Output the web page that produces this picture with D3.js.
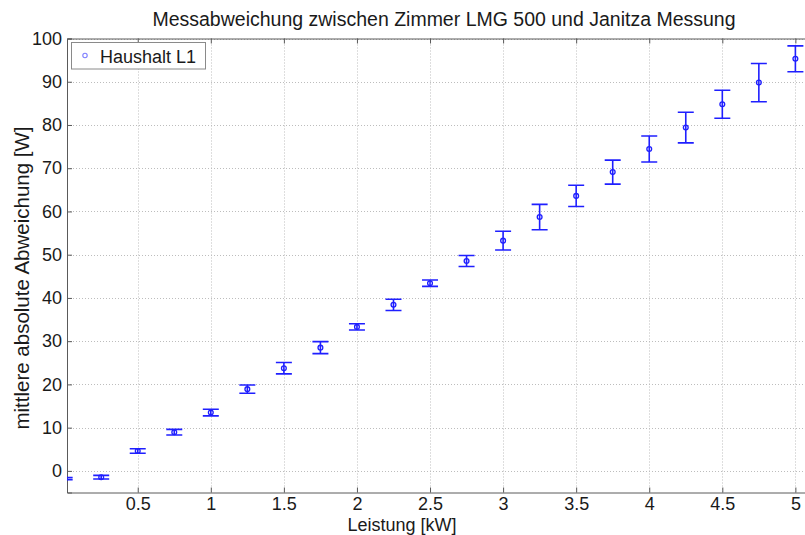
<!DOCTYPE html>
<html>
<head>
<meta charset="utf-8">
<script src="https://cdn.jsdelivr.net/npm/d3@7"></script>
<style>
  html, body { margin: 0; padding: 0; background: #fff; }
  svg { display: block; font-family: "Liberation Sans", Arial, Helvetica, sans-serif; }
</style>
</head>
<body>
<div id="chart"></div>
<script>
// Leistung [kW]
const leistung = [0, 0.25, 0.5, 0.75, 1, 1.25, 1.5, 1.75, 2, 2.25, 2.5,
  2.75, 3, 3.25, 3.5, 3.75, 4, 4.25, 4.5, 4.75, 5];
// mittlere absolute Abweichung [W]
const abweichung = [-1.8, -1.47, 4.6, 8.94, 13.5, 18.9, 23.75, 28.5, 33.3, 38.4, 43.4,
  48.55, 53.25, 58.7, 63.6, 69.1, 74.45, 79.4, 84.8, 89.8, 95.3];
// Fehlerbalken (+/-)
const fehler = [0.25, 0.42, 0.53, 0.65, 0.77, 0.95, 1.31, 1.39, 0.73, 1.3, 0.73,
  1.27, 2.16, 2.93, 2.45, 2.77, 3.0, 3.54, 3.24, 4.43, 3.0];

const xTicks = [0.5, 1, 1.5, 2, 2.5, 3, 3.5, 4, 4.5, 5];
const yTicks = [0, 10, 20, 30, 40, 50, 60, 70, 80, 90, 100];

const seriesName = 'Haushalt L1';
const title = 'Messabweichung zwischen Zimmer LMG 500 und Janitza Messung';
const xLabel = 'Leistung [kW]';
const yLabel = 'mittlere absolute Abweichung [W]';

const W = 805, H = 535;
const pLeft = 67, pRight = 810, pTop = 38.5, pBottom = 492.5;
const blue = '#1f1fff';

const x = d3.scaleLinear().domain([0.016, 5.1]).range([pLeft, pRight]);
const y = d3.scaleLinear().domain([-5, 100]).range([pBottom, pTop]);

const svg = d3.select('#chart').append('svg')
  .attr('width', W).attr('height', H);

svg.append('defs').append('clipPath').attr('id', 'plotclip')
  .append('rect')
  .attr('x', pLeft).attr('y', pTop)
  .attr('width', pRight - pLeft).attr('height', pBottom - pTop);

// grid
const grid = svg.append('g')
  .attr('stroke', '#bdbdbd')
  .attr('stroke-width', 1)
  .attr('stroke-dasharray', '1,2');
grid.selectAll('line.gx').data(xTicks).join('line')
  .attr('x1', d => Math.round(x(d)) + 0.5).attr('x2', d => Math.round(x(d)) + 0.5)
  .attr('y1', pTop).attr('y2', pBottom);
grid.selectAll('line.gy').data(yTicks).join('line')
  .attr('y1', d => Math.round(y(d)) + 0.5).attr('y2', d => Math.round(y(d)) + 0.5)
  .attr('x1', pLeft).attr('x2', pRight);

// axes (MATLAB style: inward ticks, box)
const axColor = '#5a5a5a';
const xAxisB = d3.axisBottom(x).tickValues(xTicks).tickSize(-5).tickPadding(5)
  .tickFormat(d3.format('~g'));
const xAxisT = d3.axisTop(x).tickValues(xTicks).tickSize(-5).tickFormat('');
const yAxisL = d3.axisLeft(y).tickValues(yTicks).tickSize(-5).tickPadding(5);
const yAxisR = d3.axisRight(y).tickValues(yTicks).tickSize(-5).tickFormat('');

function style(g) {
  g.select('.domain').attr('stroke', axColor);
  g.selectAll('.tick line').attr('stroke', axColor);
  g.selectAll('.tick text').attr('fill', '#1a1a1a').style('font-size', '18px');
  g.attr('font-family', null);
}

svg.append('g').attr('transform', `translate(0,${pBottom})`).call(xAxisB).call(style);
svg.append('g').attr('transform', `translate(0,${pTop})`).call(xAxisT).call(style);
svg.append('g').attr('transform', `translate(${pLeft},0)`).call(yAxisL).call(style);
svg.append('g').attr('transform', `translate(${pRight},0)`).call(yAxisR).call(style);

// error bars
const data = leistung.map((v, i) => ({ x: v, y: abweichung[i], e: fehler[i] }));
const marks = svg.append('g').attr('clip-path', 'url(#plotclip)')
  .attr('stroke', blue).attr('fill', 'none').attr('stroke-width', 1.6);
const capW = 8;
const eb = marks.selectAll('g.eb').data(data).join('g');
eb.append('line')
  .attr('x1', d => x(d.x)).attr('x2', d => x(d.x))
  .attr('y1', d => y(d.y - d.e)).attr('y2', d => y(d.y + d.e));
eb.append('line')
  .attr('x1', d => x(d.x) - capW).attr('x2', d => x(d.x) + capW)
  .attr('y1', d => y(d.y + d.e)).attr('y2', d => y(d.y + d.e));
eb.append('line')
  .attr('x1', d => x(d.x) - capW).attr('x2', d => x(d.x) + capW)
  .attr('y1', d => y(d.y - d.e)).attr('y2', d => y(d.y - d.e));
eb.append('circle')
  .attr('cx', d => x(d.x)).attr('cy', d => y(d.y))
  .attr('r', 2.4).attr('stroke-width', 1.3);

// legend
const lg = svg.append('g');
lg.append('rect')
  .attr('x', 71.5).attr('y', 42.5).attr('width', 134).attr('height', 26.5)
  .attr('fill', '#fff').attr('stroke', '#8a8a8a').attr('stroke-width', 1);
lg.append('circle').attr('cx', 85).attr('cy', 55.5).attr('r', 2.2)
  .attr('fill', 'none').attr('stroke', '#7f7fff').attr('stroke-width', 1.1);
lg.append('text').attr('x', 100).attr('y', 62.5)
  .style('font-size', '18px').attr('fill', '#1a1a1a').text(seriesName);

// title and labels
svg.append('text')
  .attr('x', 444).attr('y', 26)
  .attr('text-anchor', 'middle').style('font-size', '19.5px').attr('fill', '#1a1a1a')
  .text(title);
svg.append('text')
  .attr('x', 402).attr('y', 530.5)
  .attr('text-anchor', 'middle').style('font-size', '18px').attr('fill', '#1a1a1a')
  .text(xLabel);
svg.append('text')
  .attr('transform', 'translate(29,278) rotate(-90)')
  .attr('text-anchor', 'middle').style('font-size', '20.5px').attr('fill', '#1a1a1a')
  .text(yLabel);
</script>
</body>
</html>
